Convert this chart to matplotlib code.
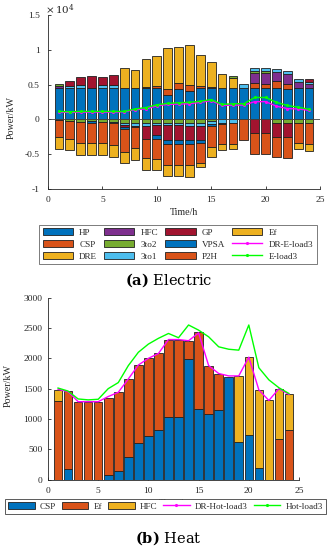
import numpy as np
import matplotlib
matplotlib.use("Agg")
import matplotlib.pyplot as plt
from matplotlib.patches import Patch
from matplotlib.lines import Line2D

plt.rcParams['font.family'] = ['Liberation Serif', 'DejaVu Serif']
plt.rcParams['mathtext.fontset'] = 'custom'
plt.rcParams['mathtext.rm'] = 'DejaVu Serif'
plt.rcParams['mathtext.bf'] = 'DejaVu Serif:bold'

hours = np.arange(1, 25)

# ---------------- Electric (a) ----------------
e_labels = ['HP', 'CSP', 'DRE', 'HFC', '3to2', '3to1', 'GP', 'VPSA', 'P2H', 'Ef']
HP = [4500, 4500, 4500, 4500, 4500, 4500, 4500, 4500, 4500, 4500, 3500, 4400,
      4100, 4500, 4500, 4500, 4500, 4500, 4500, 4500, 4500, 4400, 4500, 4500]
CSP = [0, 0, 0, 0, 0, 0, 0, 0, 200, 300, 900, 850, 900, 250, 100, 0, 0, 0,
       750, 650, 950, 700, 0, 0]
DRE = [0, 0, 0, 0, 0, 0, 2900, 2550, 3950, 4300, 5800, 5200, 5650, 4450, 3600,
       2000, 1400, 0, 0, 0, 0, 0, 0, 0]
HFC = [250, 0, 0, 0, 0, 0, 0, 0, 0, 0, 0, 0, 0, 0, 0, 0, 0, 0,
       1350, 1450, 1300, 1450, 900, 600]
T32 = [400, -200, -400, -300, -400, -350, -500, -500, -500, -500, -500, -500,
       -500, -500, -250, 0, 350, 0, 400, 400, -550, -550, -500, -500]
T31 = [0, 350, 450, 0, 450, 450, -350, -450, -450, -350, -350, -350, -450, -500,
       -400, -500, -500, 550, 450, 450, 550, 450, 400, 300]
GP = [0, 600, 1200, 1750, 1150, 1450, -250, -200, -1800, -1450, -2150, -2100,
      -2050, -2000, 0, 0, 0, 0, -2000, -2000, -1950, -2000, 0, 400]
VPSA = [-150, 0, 0, -200, 0, -200, -250, 0, 0, -450, -480, -550, -600, -450,
        -250, -150, 0, 0, 0, 0, 0, 0, 0, 0]
P2H = [-2350, -2650, -3000, -2950, -3000, -3100, -3300, -3000, -2850, -3000,
       -3100, -3050, -3000, -2850, -3000, -2850, -3000, -3000, -3000, -3000,
       -2950, -2950, -2950, -3000]
Ef = [-1700, -1600, -1650, -1650, -1700, -1700, -1600, -1650, -1600, -1550,
      -1550, -1600, -1700, -500, -1500, -950, -800, 0, 0, 0, 0, 0, -850, -1000]
E_load3 = [1150, 1100, 1150, 1150, 1150, 1150, 1150, 1500, 1700, 2100, 2300,
           2400, 2450, 2600, 2850, 2150, 2250, 2250, 3150, 3150, 2450, 2000,
           1750, 1450]
DR_E_load3 = [1050, 1000, 1050, 1050, 1050, 1050, 1100, 1400, 1500, 1950, 2150,
              2200, 2250, 2450, 2700, 2000, 2050, 2050, 2550, 2550, 1900, 1550,
              1500, 1300]

# ---------------- Heat (b) ----------------
h_labels = ['CSP', 'Ef', 'HFC']
CSP_h = [0, 170, 0, 0, 0, 70, 150, 370, 600, 715, 810, 1025, 1025, 1990, 1160,
         1075, 1145, 1700, 615, 735, 195, 0, 0, 0]
Ef_h = [1290, 1290, 1280, 1280, 1280, 1270, 1290, 1285, 1285, 1295, 1285, 1285,
        1285, 300, 1280, 800, 595, 0, 0, 0, 0, 0, 670, 810]
HFC_h = [190, 0, 0, 0, 0, 0, 0, 0, 0, 0, 0, 0, 0, 0, 0, 0, 0, 0,
         1095, 1295, 1290, 1305, 830, 595]
Hot_load3 = [1510, 1460, 1330, 1315, 1325, 1500, 1600, 1880, 2100, 2235, 2330,
             2410, 2340, 2550, 2465, 2355, 2190, 2150, 2135, 2550, 1845, 1645,
             1515, 1420]
DR_Hot_load3 = [1490, 1450, 1285, 1285, 1285, 1370, 1440, 1660, 1890, 2000,
                2080, 2310, 2310, 2290, 2420, 1880, 1750, 1710, 1710, 2020,
                1480, 1305, 1500, 1405]

C_BLUE = '#0072BD'
C_ORANGE = '#D95319'
C_YELLOW = '#EDB120'
C_PURPLE = '#7E2F8E'
C_GREEN = '#77AC30'
C_LBLUE = '#4DBEEE'
C_RED = '#A2142F'
e_colors = [C_BLUE, C_ORANGE, C_YELLOW, C_PURPLE, C_GREEN, C_LBLUE, C_RED,
            C_BLUE, C_ORANGE, C_YELLOW]
h_colors = [C_BLUE, C_ORANGE, C_YELLOW]
EDGE = '#202020'


def stacked(ax, x, series, colors, width):
    pos = np.zeros(len(x))
    neg = np.zeros(len(x))
    for vals, c in zip(series, colors):
        v = np.asarray(vals, float)
        b = np.where(v >= 0, pos, neg)
        lw = np.where(v != 0, 0.6, 0.0)
        ax.bar(x, v, width, bottom=b, color=c, edgecolor=EDGE, linewidth=lw,
               zorder=2)
        pos += np.clip(v, 0, None)
        neg += np.clip(v, None, 0)


def style(ax):
    for s in ['top', 'right']:
        ax.spines[s].set_visible(False)
    for s in ['left', 'bottom']:
        ax.spines[s].set_color('#262626')
        ax.spines[s].set_linewidth(0.6)
    ax.tick_params(direction='in', length=2.5, width=0.6, colors='#262626',
                   labelsize=6.8, labelcolor='#262626')


fig = plt.figure(figsize=(3.32, 5.5), dpi=100)
W, H = 332.0, 550.0

# Electric axes
ax1 = fig.add_axes([48 / W, 1 - 189 / H, (320 - 48) / W, (189 - 15) / H])
stacked(ax1, hours, [HP, CSP, DRE, HFC, T32, T31, GP, VPSA, P2H, Ef],
        e_colors, 0.8)
ax1.axhline(0, color='#444444', lw=0.6, zorder=3)
ax1.plot(hours, DR_E_load3, color='#FF00FF', lw=1.0, marker='.', ms=2.5,
         zorder=4)
ax1.plot(hours, E_load3, color='#00FF00', lw=1.0, marker='.', ms=2.5,
         zorder=4)
ax1.set_xlim(0, 25)
ax1.set_ylim(-1e4, 1.5e4)
yt = np.arange(-1e4, 1.51e4, 5e3)
ax1.set_yticks(yt)
ax1.set_yticklabels(['%g' % (t / 1e4) for t in yt])
ax1.set_xticks(np.arange(0, 26, 5))
style(ax1)
ax1.tick_params(axis='y', pad=6)
ax1.tick_params(axis='x', pad=5)
ax1.set_xlabel('Time/h', fontsize=7.2, color='#262626')
ax1.xaxis.set_label_coords(0.5, -0.112)
ax1.set_ylabel('Power/kW', fontsize=7.2, color='#262626')
ax1.yaxis.set_label_coords(-0.118, 0.41)
fig.text(45 / W, 1 - 10 / H, r'$\times\,10^{4}$', fontsize=7.5,
         color='#262626', va='center', ha='left',
         math_fontfamily='dejavuserif')

e_handles = [Patch(facecolor=c, edgecolor=EDGE, linewidth=0.6) for c in e_colors]
e_handles += [Line2D([], [], color='#FF00FF', lw=1.0, marker='.', ms=2.5),
              Line2D([], [], color='#00FF00', lw=1.0, marker='.', ms=2.5)]
e_names = e_labels + ['DR-E-load3', 'E-load3']
leg1 = fig.legend(e_handles, e_names, ncol=4, loc='center',
                  bbox_to_anchor=(178 / W, 1 - 244.5 / H), fontsize=6.6,
                  frameon=True, fancybox=False, edgecolor='#404040',
                  handlelength=3.3, handleheight=0.8, handletextpad=0.7,
                  columnspacing=0.75, labelspacing=0.35, borderpad=0.35,
                  borderaxespad=0)
leg1.get_frame().set_linewidth(0.6)
for t in leg1.get_texts():
    t.set_color('#262626')

fig.text(169 / W, 1 - 280 / H, r'$\mathbf{(a)}$ Electric', fontsize=10.5,
         ha='center', va='center', color='black', family='DejaVu Serif')

# Heat axes
ax2 = fig.add_axes([48 / W, 1 - 479.6 / H, (299 - 48) / W, (479.6 - 297.7) / H])
stacked(ax2, hours, [CSP_h, Ef_h, HFC_h], h_colors, 0.85)
ax2.plot(hours, DR_Hot_load3, color='#FF00FF', lw=1.0, zorder=4)
ax2.plot(hours, Hot_load3, color='#00FF00', lw=1.0, zorder=4)
ax2.set_xlim(0, 25)
ax2.set_ylim(0, 3000)
ax2.set_yticks(np.arange(0, 3001, 500))
ax2.set_xticks(np.arange(0, 26, 5))
style(ax2)
ax2.tick_params(axis='y', pad=4)
ax2.tick_params(axis='x', pad=5)
ax2.set_xlabel('Time/h', fontsize=7.2, color='#262626')
ax2.xaxis.set_label_coords(0.5, -0.105)
ax2.set_ylabel('Power/kW', fontsize=7.2, color='#262626')
ax2.yaxis.set_label_coords(-0.14, 0.52)

h_handles = [Patch(facecolor=c, edgecolor=EDGE, linewidth=0.6) for c in h_colors]
h_handles += [Line2D([], [], color='#FF00FF', lw=1.0, marker='.', ms=2.5),
              Line2D([], [], color='#00FF00', lw=1.0, marker='.', ms=2.5)]
h_names = h_labels + ['DR-Hot-load3', 'Hot-load3']
leg2 = fig.legend(h_handles, h_names, ncol=5, loc='center',
                  bbox_to_anchor=(165.5 / W, 1 - 506.5 / H), fontsize=6.6,
                  frameon=True, fancybox=False, edgecolor='#404040',
                  framealpha=1, handlelength=2.9, handleheight=0.8,
                  handletextpad=0.6, columnspacing=0.6, borderpad=0.35,
                  borderaxespad=0)
leg2.get_frame().set_linewidth(0.6)
leg2.set_zorder(10)
for t in leg2.get_texts():
    t.set_color('#262626')

fig.text(168 / W, 1 - 538 / H, r'$\mathbf{(b)}$ Heat', fontsize=10.5,
         ha='center', va='center', color='black', family='DejaVu Serif')

fig.savefig('out.png', dpi=100)
